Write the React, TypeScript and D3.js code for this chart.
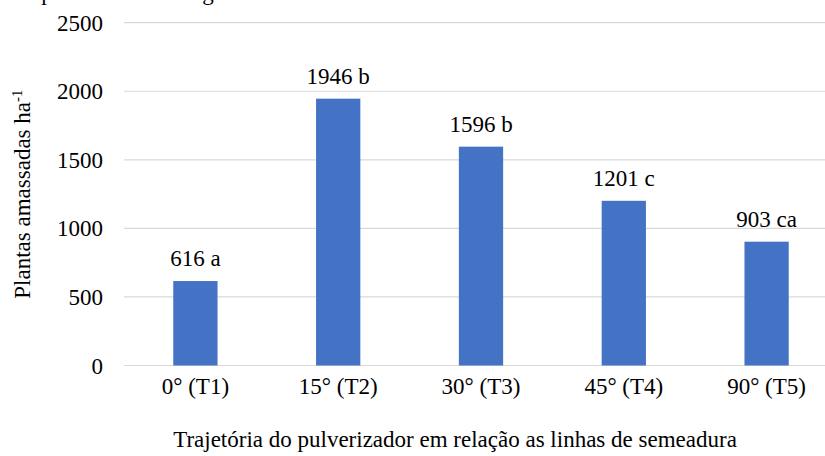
import React from 'react'
import * as d3 from 'd3'

const categories = ['0° (T1)', '15° (T2)', '30° (T3)', '45° (T4)', '90° (T5)']
const values = [616, 1946, 1596, 1201, 903]
const letters = ['a', 'b', 'b', 'c', 'ca']
const yTicks = [0, 500, 1000, 1500, 2000, 2500]

const width = 825, height = 456
const margin = { top: 22.7, right: -13, bottom: 90.5, left: 124 }
const ts = { fontFamily: "'Liberation Serif', 'Times New Roman', serif", fontSize: 23 }

export default function App() {
  const x = d3.scaleBand().domain(categories)
    .range([margin.left, width - margin.right]).paddingInner(0.69).paddingOuter(0.345)
  const y = d3.scaleLinear().domain([0, 2500]).range([height - margin.bottom, margin.top])

  return (
    <svg width={width} height={height}
      style={{ position: 'absolute', left: 0, top: 0, background: '#fff' }}>
      {/* cut-off line of body text above the figure */}
      <text x={15} y={0} style={ts}>e apresentados na Figura 4.</text>

      {yTicks.map(t => (
        <line key={'g' + t} x1={margin.left} x2={width - margin.right} y1={y(t)} y2={y(t)}
          stroke="#d9d9d9" strokeWidth={1.2} />
      ))}
      {yTicks.map(t => (
        <text key={'t' + t} x={103} y={y(t)} dy="0.35em" textAnchor="end" style={ts}>{t}</text>
      ))}

      {values.map((v, i) => (
        <rect key={'b' + i} x={x(categories[i])} width={x.bandwidth()} y={y(v)} height={y(0) - y(v)} fill="#4472c4" />
      ))}
      {values.map((v, i) => (
        <text key={'l' + i} x={x(categories[i])! + x.bandwidth() / 2} y={y(v) - 15} textAnchor="middle" style={ts}>
          {`${v} ${letters[i]}`}
        </text>
      ))}

      {categories.map(c => (
        <text key={'c' + c} x={x(c)! + x.bandwidth() / 2} y={394} textAnchor="middle" style={ts}>{c}</text>
      ))}

      <text x={455} y={447} textAnchor="middle" style={ts}>
        Trajetória do pulverizador em relação as linhas de semeadura
      </text>

      <text transform={`translate(30,${(y(0) + y(2500)) / 2}) rotate(-90)`} textAnchor="middle" style={ts}>
        <tspan>Plantas amassadas ha</tspan>
        <tspan dy={-8} style={{ fontSize: 15 }}>-1</tspan>
      </text>
    </svg>
  )
}
